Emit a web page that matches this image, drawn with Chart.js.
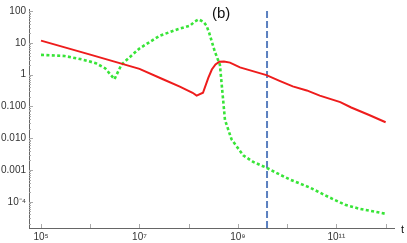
<!DOCTYPE html>
<html>
<head>
<meta charset="utf-8">
<script src="https://cdn.jsdelivr.net/npm/chart.js@4"></script>
<style>
  html, body { margin: 0; background: #fff; }
  #wrap { width: 407px; height: 243px; }
</style>
</head>
<body>
<div id="wrap"><canvas id="c"></canvas></div>
<script>
// panel (b): two quantities vs t, log-log, with a marker at t ≈ 4e9

const redT = [1e5, 1e6, 1e7, 3e7, 6.6e7, 1.2e8, 1.45e8, 1.95e8, 2.5e8, 2.95e8, 3.5e8, 4.2e8,
  5.2e8, 6.9e8, 1.1e9, 2e9, 3.8e9, 7e9, 1.3e10, 2.5e10, 4.6e10, 1.2e11, 2.0e11, 4.5e11, 1e12];
const redV = [11.8, 4.3, 1.53, 0.72, 0.42, 0.27, 0.22, 0.27, 0.8, 1.46, 2.1, 2.56,
  2.6, 2.4, 1.7, 1.3, 0.97, 0.64, 0.43, 0.32, 0.22, 0.137, 0.093, 0.055, 0.032];

const greenT = [1e5, 3e5, 7e5, 1.3e6, 2e6, 2.6e6, 3.1e6, 4.3e6, 6.5e6, 1e7, 2.6e7, 6e7, 1.07e8,
  1.3e8, 1.6e8, 2.0e8, 2.3e8, 2.6e8, 3.4e8, 4.3e8, 5.45e8, 7.4e8, 1.28e9, 2.04e9, 3.8e9,
  7.1e9, 1.15e10, 2.9e10, 7.4e10, 1.5e11, 3e11, 1e12];
const greenV = [4.2, 3.9, 3.0, 2.3, 1.6, 1.0, 0.72, 2.07, 3.7, 6.7, 17, 27, 35,
  46, 55, 46, 35, 21, 5.3, 2.07, 0.038, 0.0093, 0.0029, 0.0018, 0.00118,
  0.00072, 0.0005, 0.00028, 0.000135, 0.000081, 0.00006, 0.000042];

const markT = 3.9e9;

const xTickVals = [1e5, 1e6, 1e7, 1e8, 1e9, 1e10, 1e11, 1e12];
const xTickText = ["10⁵", "", "10⁷", "", "10⁹", "", "10¹¹", ""];
const yTickVals = [1e-4, 1e-3, 1e-2, 1e-1, 1, 10, 100];
const yTickText = ["10⁻⁴", "0.001", "0.010", "0.100", "1", "10", "100"];

const xMin = 5.7e4, xMax = 1.48e12, yMin = 1.5e-5, yMax = 117;

const FONT = "'Liberation Sans', Arial, sans-serif";
const pts = (xs, ys) => xs.map((x, i) => ({ x, y: ys[i] }));

// Mathematica-style ticks pointing into the plot, plus the "(b)" and "t" labels
const innerTicks = {
  id: "innerTicks",
  beforeDatasetsDraw(chart) {
    const { ctx, chartArea: a, scales: { x, y } } = chart;
    ctx.save();
    ctx.strokeStyle = "#aaa";
    ctx.lineWidth = 1;
    ctx.beginPath();
    xTickVals.forEach((v) => {
      const px = Math.round(x.getPixelForValue(v)) + 0.5;
      ctx.moveTo(px, a.bottom); ctx.lineTo(px, a.bottom - 4);
    });
    for (let e = -5; e <= 2; e++) for (let m = 1; m <= 9; m++) {
      const v = m * Math.pow(10, e);
      if (v < yMin || v > yMax) continue;
      const py = Math.round(y.getPixelForValue(v)) + 0.5;
      ctx.moveTo(a.left, py); ctx.lineTo(a.left + (m === 1 ? 4 : 2), py);
    }
    ctx.stroke();
    ctx.restore();
  },
  afterDraw(chart) {
    const { ctx } = chart;
    ctx.save();
    ctx.fillStyle = "#111";
    ctx.textBaseline = "middle";
    ctx.font = `15px ${FONT}`;
    ctx.fillText("(b)", 212, 14);
    ctx.font = `11px ${FONT}`;
    ctx.fillText("t", 401, 230);
    ctx.restore();
  },
};

new Chart(document.getElementById("c"), {
  type: "line",
  data: {
    datasets: [
      { data: pts(redT, redV), borderColor: "#ee1c1c", borderWidth: 2,
        tension: 0, pointRadius: 0 },
      { data: pts(greenT, greenV), borderColor: "#38e438", borderWidth: 2.6,
        borderDash: [3, 2.4], tension: 0, pointRadius: 0 },
      { data: [{ x: markT, y: yMin }, { x: markT, y: yMax }], borderColor: "#5b80c0",
        borderWidth: 2, borderDash: [7, 3], pointRadius: 0 },
    ],
  },
  options: {
    responsive: true,
    maintainAspectRatio: false,
    animation: false,
    layout: { padding: { top: 3, right: 13, left: 0, bottom: 0 } },
    plugins: { legend: { display: false }, tooltip: { enabled: false } },
    scales: {
      x: {
        type: "logarithmic", min: xMin, max: xMax,
        afterBuildTicks: (s) => { s.ticks = xTickVals.map((v) => ({ value: v })); },
        afterFit: (s) => { s.height = 15; },
        ticks: {
          autoSkip: false, maxRotation: 0, padding: 3, color: "#333",
          font: { family: FONT, size: 10 },
          callback: (v) => { const i = xTickVals.indexOf(v); return i < 0 ? "" : xTickText[i]; },
        },
        grid: { drawOnChartArea: false, drawTicks: false },
        border: { color: "#666", width: 1 },
      },
      y: {
        type: "logarithmic", min: yMin, max: yMax,
        afterBuildTicks: (s) => { s.ticks = yTickVals.map((v) => ({ value: v })); },
        afterFit: (s) => { s.width = 29; },
        ticks: {
          padding: 3, color: "#333", font: { family: FONT, size: 10 },
          callback: (v) => { const i = yTickVals.indexOf(v); return i < 0 ? "" : yTickText[i]; },
        },
        grid: { drawOnChartArea: false, drawTicks: false },
        border: { color: "#666", width: 1 },
      },
    },
  },
  plugins: [innerTicks],
});
</script>
</body>
</html>
